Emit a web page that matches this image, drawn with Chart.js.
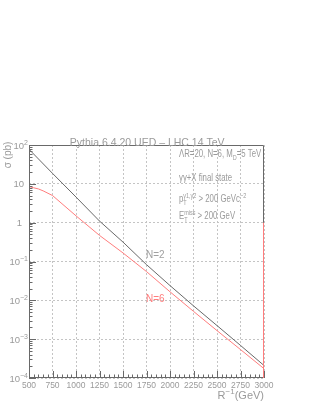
<!DOCTYPE html>
<html>
<head>
<meta charset="utf-8">
<script src="https://cdn.jsdelivr.net/npm/chart.js@4.4.0/dist/chart.umd.min.js"></script>
<style>
  html, body { margin: 0; padding: 0; background: #fff; }
  #wrap { width: 316px; height: 409px; }
</style>
</head>
<body>
<div id="wrap"><canvas id="chart" width="316" height="409"></canvas></div>
<script>
// axis ticks
const xTicks = [500, 750, 1000, 1250, 1500, 1750, 2000, 2250, 2500, 2750, 3000]
const yDecades = [1e-4, 1e-3, 1e-2, 1e-1, 1, 10, 100]

// N=2 (dark line), sigma in pb vs R^-1 in GeV
const n2X = [500, 750, 1000, 1250, 1500, 1750, 2000, 2250, 2500, 2750, 3000]
const n2Sigma = [77.6, 18.6, 4.57, 1.10, 0.316, 0.083, 0.024, 0.0072, 0.00224, 0.00069, 0.00021]

// N=6 (red line); first point is the histogram's left edge
const n6X = [500, 500, 550, 600, 650, 750, 1000, 1250, 1500, 1750, 2000, 2250, 2500, 2750, 3000]
const n6Sigma = [1, 8.5, 7.9, 7.4, 6.6, 5.0, 1.5, 0.47, 0.166, 0.055, 0.0166, 0.0052, 0.00166, 0.00054, 0.000174]

// right edge drop of the N=6 histogram
const n6EdgeX = [3000, 3000]
const n6EdgeSigma = [1, 1e-4]

const titleText = 'Pythia 6.4.20 UED \u2013 LHC 14 TeV'

const FONT = '"Liberation Sans", Arial, sans-serif'
const TEXT = '#9a9a9a'
const DARK = 'rgb(105,105,105)'
const RED = 'rgb(255,125,125)'

const toXY = (xs, ys) => xs.map((x, i) => ({ x: x, y: ys[i] }))

// draw text made of normal / sub / sup pieces, squeezed by sx
function drawRich(ctx, parts, x, y, size, align, sx) {
  sx = sx || 1
  const small = Math.round(size * 0.7)
  const widthOf = p => {
    ctx.font = (p[1] === 'n' ? size : small) + 'px ' + FONT
    return ctx.measureText(p[0]).width
  }
  const stackedSub = i => parts[i][1] === 'sub' && parts[i + 1] && parts[i + 1][1] === 'sup'
  const stackedSup = i => parts[i][1] === 'sup' && parts[i - 1] && parts[i - 1][1] === 'sub'
  let total = 0
  parts.forEach((p, i) => {
    if (stackedSub(i)) return
    total += stackedSup(i) ? Math.max(widthOf(p), widthOf(parts[i - 1])) : widthOf(p)
  })
  ctx.save()
  ctx.translate(align === 'right' ? x - total * sx : x, y)
  ctx.scale(sx, 1)
  ctx.textAlign = 'left'
  ctx.textBaseline = 'alphabetic'
  let cx = 0
  parts.forEach((p, i) => {
    const w = widthOf(p)
    ctx.font = (p[1] === 'n' ? size : small) + 'px ' + FONT
    let dy = 0
    if (p[1] === 'sup') dy = -size * 0.42
    if (p[1] === 'sub') dy = size * 0.25
    ctx.fillText(p[0], cx, dy)
    if (stackedSub(i)) return
    cx += stackedSup(i) ? Math.max(w, widthOf(parts[i - 1])) : w
  })
  ctx.restore()
}

const decorPlugin = {
  id: 'decor',
  afterDatasetsDraw(chart) {
    const ctx = chart.ctx
    const a = chart.chartArea
    const xs = chart.scales.x
    const ys = chart.scales.y
    ctx.save()

    // frame
    ctx.strokeStyle = DARK
    ctx.lineWidth = 1
    ctx.beginPath()
    ctx.moveTo(a.left + 0.5, a.top + 0.5)
    ctx.lineTo(a.right - 0.5, a.top + 0.5)
    ctx.lineTo(a.right - 0.5, a.bottom - 0.5)
    ctx.lineTo(a.left + 0.5, a.bottom - 0.5)
    ctx.closePath()
    ctx.stroke()

    // x ticks, major every 250, minor every 50
    ctx.beginPath()
    for (let v = 500; v <= 3000; v += 50) {
      const px = Math.round(xs.getPixelForValue(v)) + 0.5
      const len = v % 250 === 0 ? 7 : 3.5
      ctx.moveTo(px, a.bottom)
      ctx.lineTo(px, a.bottom - len)
    }
    // y ticks, decades and 2..9 in between
    yDecades.forEach((d, i) => {
      const py = Math.round(ys.getPixelForValue(d)) + 0.5
      ctx.moveTo(a.left, py)
      ctx.lineTo(a.left + 7, py)
      if (i < yDecades.length - 1) {
        for (let m = 2; m <= 9; m++) {
          const pm = Math.round(ys.getPixelForValue(d * m)) + 0.5
          ctx.moveTo(a.left, pm)
          ctx.lineTo(a.left + 3.5, pm)
        }
      }
    })
    ctx.stroke()

    // red drop line on the right edge drawn over the frame
    const e0 = ys.getPixelForValue(n6EdgeSigma[0])
    const e1 = ys.getPixelForValue(n6EdgeSigma[1])
    ctx.strokeStyle = RED
    ctx.beginPath()
    ctx.moveTo(xs.getPixelForValue(n6EdgeX[0]) - 0.5, e0)
    ctx.lineTo(xs.getPixelForValue(n6EdgeX[1]) - 0.5, e1)
    ctx.stroke()

    ctx.fillStyle = TEXT

    // y tick labels with exponents
    yDecades.forEach(d => {
      const e = Math.round(Math.log10(d))
      const py = ys.getPixelForValue(d) + 3.5
      if (e === 0) drawRich(ctx, [['1', 'n']], a.left - 7, py, 9.5, 'right')
      else if (e === 1) drawRich(ctx, [['10', 'n']], a.left - 5, py, 9.5, 'right')
      else drawRich(ctx, [['10', 'n'], [(e < 0 ? '\u2212' : '') + Math.abs(e), 'sup']], a.left - 1, py, 9.5, 'right')
    })

    // title
    drawRich(ctx, [[titleText, 'n']], (a.left + a.right) / 2 + 78, a.top + 0.5, 10.5, 'right')

    // annotations
    const tx = 179
    const fs = 10
    const sq = 0.78
    drawRich(ctx, [['\u039BR=20, N=6, M', 'n'], ['D', 'sub'], ['=5 TeV', 'n']], tx, 157, fs, 'left', sq)
    drawRich(ctx, [['\u03B3\u03B3+X final state', 'n']], tx, 180.5, fs, 'left', sq)
    drawRich(ctx, [['p', 'n'], ['T', 'sub'], ['\u03B31,\u03B32', 'sup'], [' > 200 GeVc', 'n'], ['\u22122', 'sup']], tx, 202, fs, 'left', sq)
    drawRich(ctx, [['E', 'n'], ['T', 'sub'], ['miss', 'sup'], [' > 200 GeV', 'n']], tx, 219, fs, 'left', sq)

    // curve labels
    ctx.fillStyle = '#a0a0a0'
    drawRich(ctx, [['N=2', 'n']], 146, 257.5, 10.5, 'left', 0.95)
    ctx.fillStyle = RED
    drawRich(ctx, [['N=6', 'n']], 146, 301.5, 10.5, 'left', 0.95)

    // axis titles
    ctx.fillStyle = TEXT
    drawRich(ctx, [['R', 'n'], ['\u22121', 'sup'], ['(GeV)', 'n']], a.right, 399, 11, 'right')
    ctx.translate(11, 155)
    ctx.rotate(-Math.PI / 2)
    ctx.font = '10px ' + FONT
    ctx.textAlign = 'center'
    ctx.fillText('\u03C3 (pb)', 0, 0)

    ctx.restore()
  }
}

new Chart(document.getElementById('chart').getContext('2d'), {
  type: 'line',
  data: {
    datasets: [
      {
        label: 'N=6',
        data: toXY(n6X, n6Sigma),
        borderColor: RED,
        borderWidth: 1,
        pointRadius: 0,
        tension: 0,
        fill: false
      },
      {
        label: 'N=2',
        data: toXY(n2X, n2Sigma),
        borderColor: DARK,
        borderWidth: 1,
        pointRadius: 0,
        tension: 0,
        fill: false
      }
    ]
  },
  options: {
    responsive: false,
    animation: false,
    devicePixelRatio: 1,
    layout: { padding: { left: 0, top: 145, right: 52, bottom: 0 } },
    plugins: {
      legend: { display: false },
      title: { display: false },
      tooltip: { enabled: false }
    },
    scales: {
      x: {
        type: 'linear',
        min: 500,
        max: 3000,
        afterBuildTicks: s => { s.ticks = xTicks.map(v => ({ value: v })) },
        afterFit: s => { s.height = 31 },
        ticks: {
          autoSkip: false,
          maxRotation: 0,
          padding: 3,
          color: TEXT,
          font: { family: FONT, size: 8.5 },
          callback: v => String(v)
        },
        grid: { color: '#c4c4c4', lineWidth: 1, drawTicks: false },
        border: { display: false, dash: [2, 2] }
      },
      y: {
        type: 'logarithmic',
        min: 1e-4,
        max: 100,
        afterBuildTicks: s => { s.ticks = yDecades.map(v => ({ value: v })) },
        afterFit: s => { s.width = 29 },
        ticks: { display: false },
        grid: { color: '#c4c4c4', lineWidth: 1, drawTicks: false },
        border: { display: false, dash: [2, 2] }
      }
    }
  },
  plugins: [decorPlugin]
})
</script>
</body>
</html>
